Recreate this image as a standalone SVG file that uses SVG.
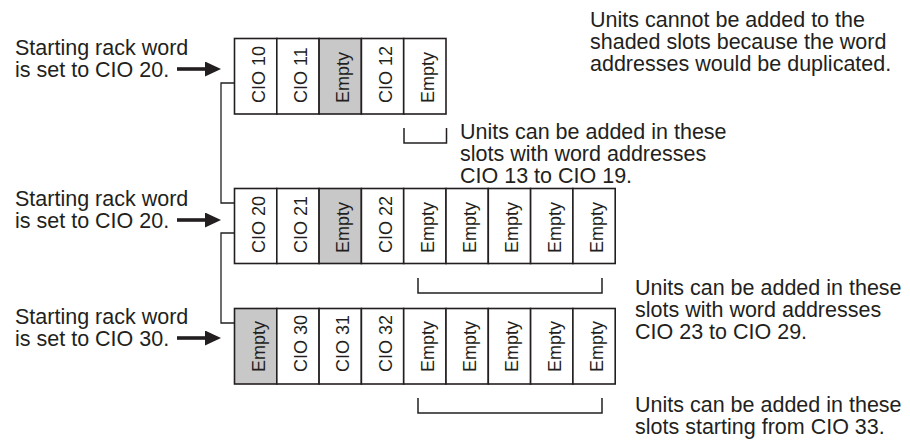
<svg xmlns="http://www.w3.org/2000/svg" width="910" height="442" viewBox="0 0 910 442">
<defs>
<style>
.lbl{font-family:"Liberation Sans",Arial,Helvetica,sans-serif;font-size:21.5px;fill:#231f20}
.slt{font-family:"Liberation Sans",Arial,Helvetica,sans-serif;font-size:18px;fill:#231f20}
.slot{fill:#ffffff;stroke:#231f20;stroke-width:1.6}
.shade{fill:#c8c8c9;stroke:#231f20;stroke-width:1.6}
.conn{fill:none;stroke:#231f20;stroke-width:1.3}
.brk{fill:none;stroke:#231f20;stroke-width:1.5}
.arr{stroke:#231f20;stroke-width:3.6}
</style>
<marker id="ah" viewBox="0 0 16 15" refX="1" refY="7.5" markerWidth="16" markerHeight="15" markerUnits="userSpaceOnUse" orient="auto">
<path d="M0,0 L16,7.5 L0,15 Z" fill="#231f20"/>
</marker>
</defs>
<rect width="910" height="442" fill="#ffffff"/>

<g id="connectors">
<path class="conn" d="M234.5,83 H221 V203 H234.5"/>
<path class="conn" d="M234.5,233 H221 V323 H234.5"/>
<line class="arr" x1="177" y1="69" x2="206" y2="69" marker-end="url(#ah)"/>
<line class="arr" x1="177" y1="220" x2="206" y2="220" marker-end="url(#ah)"/>
<line class="arr" x1="177" y1="338" x2="206" y2="338" marker-end="url(#ah)"/>
</g>

<g id="label1">
<text class="lbl" x="15" y="54.5">Starting rack word</text>
<text class="lbl" x="15" y="76.5">is set to CIO 20.</text>
</g>
<g id="label2">
<text class="lbl" x="15" y="205.5">Starting rack word</text>
<text class="lbl" x="15" y="227.5">is set to CIO 20.</text>
</g>
<g id="label3">
<text class="lbl" x="15" y="323.5">Starting rack word</text>
<text class="lbl" x="15" y="345.5">is set to CIO 30.</text>
</g>

<g id="rack1">
<rect class="slot" x="234.5" y="38.5" width="42.3" height="75.5"/>
<rect class="slot" x="276.8" y="38.5" width="42.3" height="75.5"/>
<rect class="shade" x="319.1" y="38.5" width="42.3" height="75.5"/>
<rect class="slot" x="361.4" y="38.5" width="42.3" height="75.5"/>
<rect class="slot" x="403.7" y="38.5" width="42.3" height="75.5"/>
<text class="slt" transform="translate(264.6,103) rotate(-90)">CIO 10</text>
<text class="slt" transform="translate(306.9,103) rotate(-90)">CIO 11</text>
<text class="slt" transform="translate(349.2,103) rotate(-90)">Empty</text>
<text class="slt" transform="translate(391.5,103) rotate(-90)">CIO 12</text>
<text class="slt" transform="translate(433.8,103) rotate(-90)">Empty</text>
</g>

<g id="rack2">
<rect class="slot" x="234.5" y="188.5" width="42.3" height="75"/>
<rect class="slot" x="276.8" y="188.5" width="42.3" height="75"/>
<rect class="shade" x="319.1" y="188.5" width="42.3" height="75"/>
<rect class="slot" x="361.4" y="188.5" width="42.3" height="75"/>
<rect class="slot" x="403.7" y="188.5" width="42.3" height="75"/>
<rect class="slot" x="446" y="188.5" width="42.3" height="75"/>
<rect class="slot" x="488.3" y="188.5" width="42.3" height="75"/>
<rect class="slot" x="530.6" y="188.5" width="42.3" height="75"/>
<rect class="slot" x="572.9" y="188.5" width="42.3" height="75"/>
<text class="slt" transform="translate(264.6,253) rotate(-90)">CIO 20</text>
<text class="slt" transform="translate(306.9,253) rotate(-90)">CIO 21</text>
<text class="slt" transform="translate(349.2,253) rotate(-90)">Empty</text>
<text class="slt" transform="translate(391.5,253) rotate(-90)">CIO 22</text>
<text class="slt" transform="translate(433.8,253) rotate(-90)">Empty</text>
<text class="slt" transform="translate(476.1,253) rotate(-90)">Empty</text>
<text class="slt" transform="translate(518.4,253) rotate(-90)">Empty</text>
<text class="slt" transform="translate(560.7,253) rotate(-90)">Empty</text>
<text class="slt" transform="translate(603,253) rotate(-90)">Empty</text>
</g>

<g id="rack3">
<rect class="shade" x="234.5" y="308.5" width="42.3" height="75.5"/>
<rect class="slot" x="276.8" y="308.5" width="42.3" height="75.5"/>
<rect class="slot" x="319.1" y="308.5" width="42.3" height="75.5"/>
<rect class="slot" x="361.4" y="308.5" width="42.3" height="75.5"/>
<rect class="slot" x="403.7" y="308.5" width="42.3" height="75.5"/>
<rect class="slot" x="446" y="308.5" width="42.3" height="75.5"/>
<rect class="slot" x="488.3" y="308.5" width="42.3" height="75.5"/>
<rect class="slot" x="530.6" y="308.5" width="42.3" height="75.5"/>
<rect class="slot" x="572.9" y="308.5" width="42.3" height="75.5"/>
<text class="slt" transform="translate(264.6,372) rotate(-90)">Empty</text>
<text class="slt" transform="translate(306.9,372) rotate(-90)">CIO 30</text>
<text class="slt" transform="translate(349.2,372) rotate(-90)">CIO 31</text>
<text class="slt" transform="translate(391.5,372) rotate(-90)">CIO 32</text>
<text class="slt" transform="translate(433.8,372) rotate(-90)">Empty</text>
<text class="slt" transform="translate(476.1,372) rotate(-90)">Empty</text>
<text class="slt" transform="translate(518.4,372) rotate(-90)">Empty</text>
<text class="slt" transform="translate(560.7,372) rotate(-90)">Empty</text>
<text class="slt" transform="translate(603,372) rotate(-90)">Empty</text>
</g>

<g id="note-top">
<text class="lbl" x="590" y="27">Units cannot be added to the</text>
<text class="lbl" x="590" y="49">shaded slots because the word</text>
<text class="lbl" x="590" y="71">addresses would be duplicated.</text>
</g>

<g id="bracket1">
<path class="brk" d="M404,128 V143 H446.5 V128"/>
<text class="lbl" x="460" y="139">Units can be added in these</text>
<text class="lbl" x="460" y="161">slots with word addresses</text>
<text class="lbl" x="460" y="183">CIO 13 to CIO 19.</text>
</g>

<g id="bracket2">
<path class="brk" d="M418,278 V293 H602 V278"/>
<text class="lbl" x="635" y="295">Units can be added in these</text>
<text class="lbl" x="635" y="317">slots with word addresses</text>
<text class="lbl" x="635" y="339">CIO 23 to CIO 29.</text>
</g>

<g id="bracket3">
<path class="brk" d="M418,398 V413 H602 V398"/>
<text class="lbl" x="635" y="412">Units can be added in these</text>
<text class="lbl" x="635" y="434">slots starting from CIO 33.</text>
</g>
</svg>
